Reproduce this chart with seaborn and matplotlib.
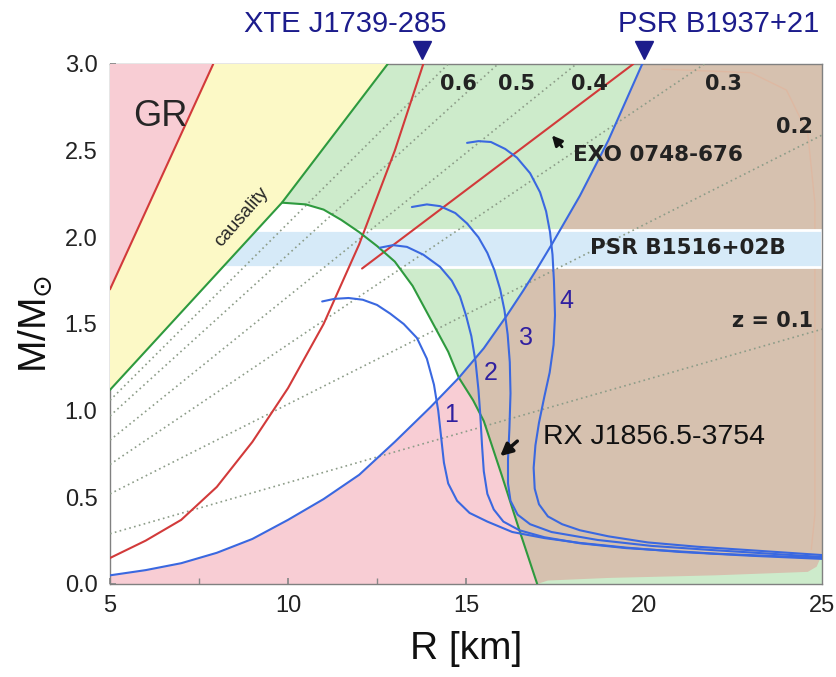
import numpy as np
import pandas as pd
import matplotlib
matplotlib.use("Agg")
import matplotlib.pyplot as plt
import seaborn as sns

sns.set_theme(style="white")
plt.rcParams['font.family'] = ['Liberation Sans', 'DejaVu Sans']

# --- boundaries of the regions (R in km, M in M_sun) ---
gr_R = [5.0, 7.9]
gr_M = [1.70, 3.0]
caus_R = [5.0, 9.83, 12.8]
caus_M = [1.12, 2.20, 3.0]
dome_R = [9.83, 10.5, 11.0, 11.5, 12.0, 12.5, 13.0, 13.5, 14.0, 14.5, 14.8, 15.2, 15.5, 16.0, 16.5, 17.0]
dome_M = [2.20, 2.19, 2.16, 2.10, 2.03, 1.95, 1.86, 1.72, 1.53, 1.34, 1.19, 1.06, 0.94, 0.63, 0.31, 0.0]
rot_R = [5.0, 6.0, 7.0, 8.0, 9.0, 10.0, 11.0, 12.0, 13.0, 14.0, 14.8, 15.5, 16.15, 16.6, 17.0, 17.44, 18.2, 19.0, 19.95]
rot_M = [0.05, 0.08, 0.12, 0.18, 0.26, 0.37, 0.49, 0.63, 0.82, 1.02, 1.19, 1.36, 1.55, 1.69, 1.82, 1.97, 2.24, 2.56, 3.0]
cross = 10  # index of the dome / rotation-curve crossing in both lists

# edge of the brown area at the right and bottom
brown_edge_R = [25.0, 25.0, 24.85, 24.6, 22.0, 19.0, 17.3]
brown_edge_M = [3.0, 0.17, 0.10, 0.07, 0.05, 0.035, 0.02]
strip_R = [17.0, 25.0, 25.0, 16.8]
strip_M = [0.0, 0.0, 0.2, 0.2]
faint_R = [20.5, 23.0, 24.0, 24.6, 24.8, 24.8, 24.7]
faint_M = [2.97, 2.95, 2.85, 2.6, 2.2, 0.4, 0.2]

band_lo, band_hi = 1.83, 2.04

# red constraint lines
xte_R = [5.0, 6.0, 7.0, 8.0, 9.0, 10.0, 11.0, 12.0, 13.0, 13.8]
xte_M = [0.15, 0.25, 0.37, 0.56, 0.82, 1.13, 1.50, 1.96, 2.50, 3.0]
exo_R = [12.08, 19.7]
exo_M = [1.82, 3.0]

# redshift lines z = 0.1 ... 0.6
z_R0 = [5.0, 5.0, 5.0, 5.0, 5.0, 5.0]
z_M0 = [0.29, 0.52, 0.69, 0.83, 0.97, 1.06]
z_R1 = [25.0, 25.0, 21.7, 18.1, 15.9, 14.5]
z_M1 = [1.47, 2.59, 3.0, 3.0, 3.0, 3.0]

# mass-radius curves 1..4
eos1_R = [10.96, 11.3, 11.7, 12.1, 12.5, 12.87, 13.25, 13.62, 13.9, 14.1, 14.22, 14.3, 14.38, 14.5,
          14.75, 15.1, 15.6, 16.3, 17.2, 18.2, 19.5, 21.0, 23.0, 25.0]
eos1_M = [1.63, 1.645, 1.65, 1.64, 1.61, 1.56, 1.50, 1.42, 1.30, 1.15, 1.0, 0.85, 0.70, 0.58,
          0.48, 0.41, 0.36, 0.30, 0.265, 0.237, 0.21, 0.185, 0.163, 0.145]
eos2_R = [12.58, 12.95, 13.34, 13.8, 14.27, 14.6, 14.83, 15.0, 15.15, 15.27, 15.35, 15.4, 15.45, 15.5,
          15.6, 15.78, 16.05, 16.5, 17.2, 18.2, 19.5, 22.0, 25.0]
eos2_M = [1.94, 1.955, 1.945, 1.90, 1.83, 1.75, 1.66, 1.55, 1.43, 1.28, 1.12, 0.98, 0.80, 0.65,
          0.52, 0.43, 0.36, 0.31, 0.27, 0.235, 0.207, 0.175, 0.15]
eos3_R = [13.48, 13.9, 14.27, 14.7, 15.03, 15.35, 15.6, 15.8, 15.96, 16.08, 16.17, 16.23, 16.25, 16.22,
          16.18, 16.18, 16.25, 16.45, 16.8, 17.4, 18.7, 20.2, 21.9, 25.0]
eos3_M = [2.175, 2.19, 2.18, 2.14, 2.08, 2.0, 1.91, 1.81, 1.70, 1.58, 1.44, 1.28, 1.10, 0.90,
          0.72, 0.58, 0.48, 0.40, 0.345, 0.30, 0.254, 0.22, 0.196, 0.156]
eos4_R = [15.03, 15.35, 15.7, 16.1, 16.43, 16.8, 17.08, 17.25, 17.36, 17.43, 17.47, 17.5, 17.46, 17.35,
          17.2, 17.05, 16.95, 16.9, 16.93, 17.05, 17.3, 17.7, 18.2, 19.0, 20.1, 21.5, 22.9, 25.0]
eos4_M = [2.545, 2.555, 2.55, 2.51, 2.46, 2.37, 2.26, 2.15, 2.03, 1.90, 1.75, 1.55, 1.38, 1.22,
          1.08, 0.93, 0.80, 0.67, 0.55, 0.46, 0.39, 0.345, 0.31, 0.275, 0.24, 0.215, 0.196, 0.167]

# labels
z_labels = ["0.6", "0.5", "0.4", "0.3"]
z_label_R = [14.8, 16.43, 18.48, 22.22]
eos_labels = ["1", "2", "3", "4"]
eos_label_R = [14.58, 15.70, 16.69, 17.81]
eos_label_M = [0.975, 1.218, 1.42, 1.633]
top_names = ["XTE J1739-285", "PSR B1937+21"]
top_name_R = [11.60, 22.11]
top_mark_R = [13.76, 20.0]

pink = "#F8CDD4"
yellow = "#FCF9C6"
lgreen = "#CDEBCB"
brown = "#D6C1AF"
lblue = "#D6EAF8"
red = "#D23A3A"
green = "#2E9A3E"
blue = "#3A68E0"
navy = "#1C1C8C"

fig = plt.figure(figsize=(8.36, 6.77), dpi=100)
ax = fig.add_axes([110 / 836, 1 - 584 / 677, 712 / 836, 520 / 677])
ax.set_facecolor(pink)

# regions
green_poly_R = caus_R[1:] + rot_R[cross:][::-1] + dome_R[:cross + 1][::-1]
green_poly_M = caus_M[1:] + rot_M[cross:][::-1] + dome_M[:cross + 1][::-1]
ax.fill(green_poly_R, green_poly_M, color=lgreen, lw=0, zorder=1)
white_R = caus_R[:2] + dome_R[1:cross + 1] + rot_R[:cross][::-1]
white_M = caus_M[:2] + dome_M[1:cross + 1] + rot_M[:cross][::-1]
ax.fill(white_R, white_M, color="white", lw=0, zorder=1)
ax.fill(strip_R, strip_M, color=lgreen, lw=0, zorder=1)
brown_R = rot_R[cross:] + brown_edge_R + dome_R[cross:][::-1]
brown_M = rot_M[cross:] + brown_edge_M + dome_M[cross:][::-1]
ax.fill(brown_R, brown_M, color=brown, lw=0, zorder=1.5)
ax.plot(faint_R, faint_M, color="#E3B39A", lw=1, alpha=0.6, zorder=1.6)

ax.axhspan(band_lo, band_hi, facecolor=lblue, edgecolor="white", lw=2, zorder=2)

ax.fill(gr_R + caus_R[::-1], gr_M + caus_M[::-1], color=yellow, lw=0, zorder=3)
ax.fill([gr_R[0], gr_R[0], gr_R[1]], [gr_M[0], 3.0, gr_M[1]], color=pink, lw=0, zorder=3)

# redshift lines
for r0, m0, r1, m1 in zip(z_R0, z_M0, z_R1, z_M1):
    ax.plot([r0, r1], [m0, m1], color="#8C9C88", ls=(0, (1, 2)), lw=1.2, zorder=4)

# boundary and constraint lines
lines = pd.concat([
    pd.DataFrame({"R": gr_R, "M": gr_M, "line": "gr"}),
    pd.DataFrame({"R": xte_R, "M": xte_M, "line": "xte"}),
    pd.DataFrame({"R": exo_R, "M": exo_M, "line": "exo"}),
    pd.DataFrame({"R": caus_R, "M": caus_M, "line": "caus"}),
    pd.DataFrame({"R": dome_R, "M": dome_M, "line": "dome"}),
    pd.DataFrame({"R": rot_R, "M": rot_M, "line": "rot"}),
    pd.DataFrame({"R": eos1_R, "M": eos1_M, "line": "eos1"}),
    pd.DataFrame({"R": eos2_R, "M": eos2_M, "line": "eos2"}),
    pd.DataFrame({"R": eos3_R, "M": eos3_M, "line": "eos3"}),
    pd.DataFrame({"R": eos4_R, "M": eos4_M, "line": "eos4"}),
])
pal = {"gr": red, "xte": red, "exo": red, "caus": green, "dome": green,
       "rot": blue, "eos1": blue, "eos2": blue, "eos3": blue, "eos4": blue}
sns.lineplot(data=lines, x="R", y="M", hue="line", units="line", palette=pal,
             estimator=None, sort=False, legend=False, lw=1.5, ax=ax, zorder=5)

ax.set_xlim(5, 25)
ax.set_ylim(0, 3)

# texts
dark = "#222222"
ax.text(6.40, 2.70, "GR", fontsize=26, ha="center", va="center", zorder=6)
ax.text(8.71, 2.12, "causality", fontsize=13.5, rotation=49, ha="center", va="center", zorder=6)
for lab, r in zip(z_labels, z_label_R):
    ax.text(r, 2.885, lab, fontsize=15, family="DejaVu Sans", weight="bold", ha="center", va="center",
            color=dark, zorder=6)
ax.text(24.75, 2.637, "0.2", fontsize=15, family="DejaVu Sans", weight="bold", ha="right", va="center",
        color=dark, zorder=6)
ax.text(24.75, 1.518, "z = 0.1", fontsize=15, family="DejaVu Sans", weight="bold", ha="right", va="center",
        color=dark, zorder=6)
ax.text(18.0, 2.475, "EXO 0748-676", fontsize=15.5, family="DejaVu Sans", weight="bold", ha="left",
        va="center", color=dark, zorder=6)
ax.text(21.24, 1.94, "PSR B1516+02B", fontsize=15.5, family="DejaVu Sans", weight="bold", ha="center",
        va="center", color=dark, zorder=6)
ax.text(17.16, 0.848, "RX J1856.5-3754", fontsize=20.5, ha="left", va="center", color="#111111", zorder=6)
for lab, r, m in zip(eos_labels, eos_label_R, eos_label_M):
    ax.text(r, m, lab, fontsize=18, ha="center", va="center", color="#3020A0", zorder=6)

ax.annotate("", xy=(17.36, 2.60), xytext=(17.75, 2.51),
            arrowprops=dict(arrowstyle="-|>,head_length=0.5,head_width=0.25", color="#111111", lw=2),
            zorder=6)
ax.annotate("", xy=(15.9, 0.727), xytext=(16.5, 0.835),
            arrowprops=dict(arrowstyle="-|>,head_length=0.6,head_width=0.3", color="#111111", lw=2.5),
            zorder=6)

for name, r in zip(top_names, top_name_R):
    ax.text(r, 3.231, name, fontsize=21, ha="center", va="center", color=navy, clip_on=False)
ax.plot(top_mark_R, [3.081, 3.081], ls="none", marker="v", ms=13, color=navy, clip_on=False)

# axes styling
ax.set_xticks([5, 10, 15, 20, 25])
ax.set_xticks(np.arange(5, 25.1, 2.5), minor=True)
ax.set_yticks(np.arange(0, 3.01, 0.5))
ax.set_yticks(np.arange(0, 3.01, 0.25), minor=True)
ax.set_yticklabels([f"{v:.1f}" for v in np.arange(0, 3.01, 0.5)])
ax.tick_params(which="both", direction="in", length=4, color="#888888", labelsize=17,
               labelcolor="#222222", bottom=True, left=True)
ax.tick_params(axis="y", pad=9)
ax.tick_params(axis="x", pad=8)
for s in ax.spines.values():
    s.set_color("#808080")
    s.set_linewidth(1)
ax.set_xlabel("R [km]", fontsize=28, labelpad=10, color="#111111")
ax.set_ylabel(r"M/M$_{\odot}$", fontsize=28, labelpad=8, color="#111111")
ax.grid(False)

fig.savefig("out.png", dpi=100)
